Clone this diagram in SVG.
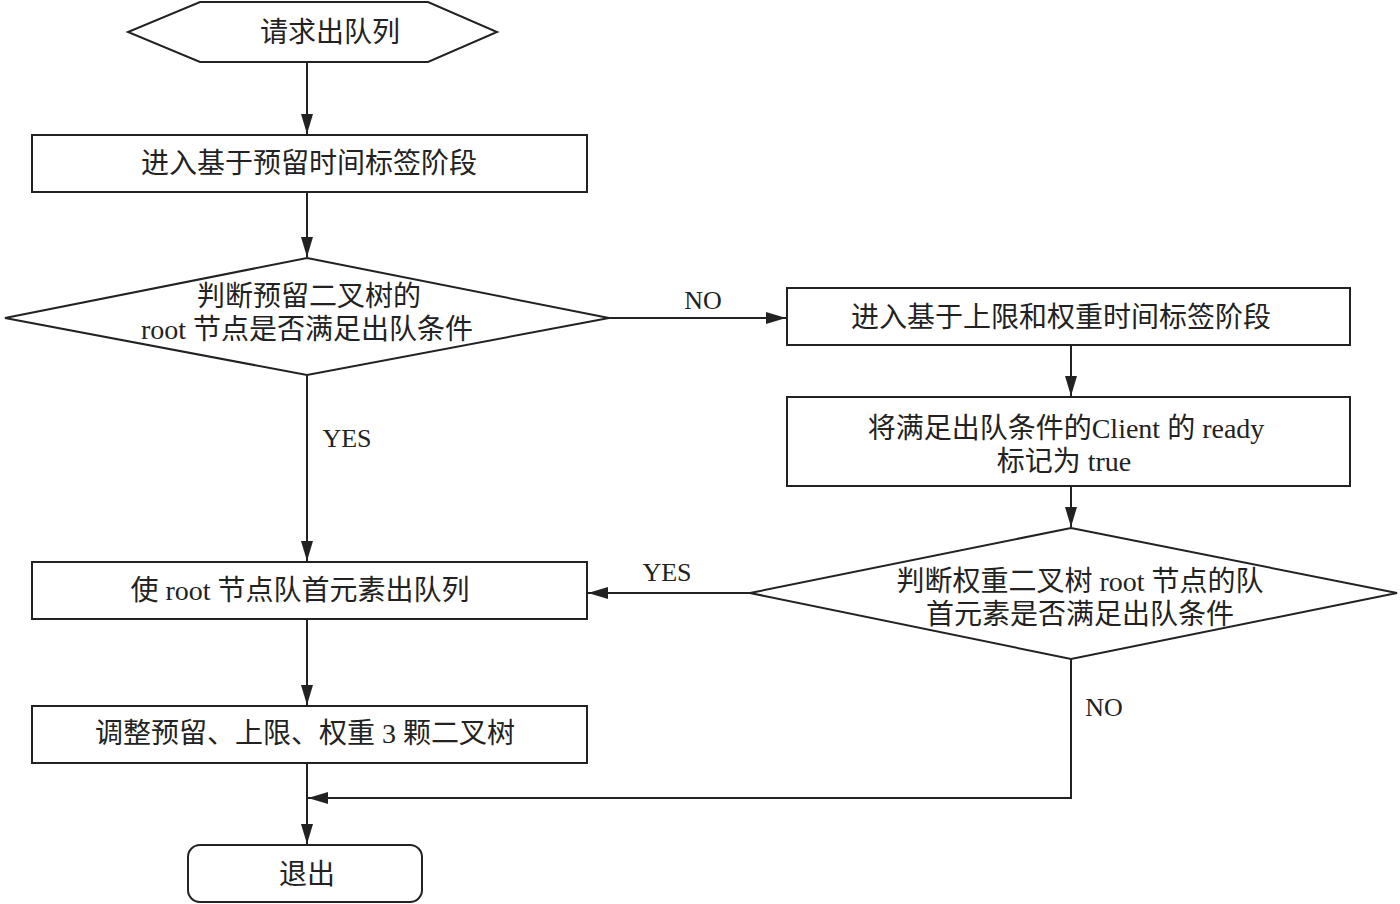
<svg xmlns="http://www.w3.org/2000/svg" width="1400" height="904" viewBox="0 0 1400 904">
<style>
.s{fill:#fff;stroke:#222;stroke-width:2}
.c{fill:none;stroke:#222;stroke-width:2}
text{font-family:"Liberation Serif","Noto Sans CJK SC",serif;font-size:28px;fill:#222;text-anchor:middle;dominant-baseline:central}
.l{font-size:26px}
</style>
<defs>
<marker id="a" markerUnits="userSpaceOnUse" markerWidth="22" markerHeight="14" refX="20" refY="6" orient="auto">
<path d="M0,0 L20,6 L0,12 Z" fill="#222"/>
</marker>
</defs>
<rect width="1400" height="904" fill="#fff"/>
<g id="connectors">
<line class="c" x1="307" y1="63" x2="307" y2="134" marker-end="url(#a)"/>
<line class="c" x1="307" y1="192" x2="307" y2="257" marker-end="url(#a)"/>
<line class="c" x1="609" y1="318" x2="786" y2="318" marker-end="url(#a)"/>
<text class="l" x="703" y="300">NO</text>
<line class="c" x1="1071" y1="345" x2="1071" y2="396" marker-end="url(#a)"/>
<line class="c" x1="1071" y1="486" x2="1071" y2="527" marker-end="url(#a)"/>
<line class="c" x1="750" y1="593" x2="588" y2="593" marker-end="url(#a)"/>
<text class="l" x="667" y="572">YES</text>
<line class="c" x1="307" y1="375" x2="307" y2="561" marker-end="url(#a)"/>
<text class="l" x="347" y="438">YES</text>
<line class="c" x1="307" y1="619" x2="307" y2="705" marker-end="url(#a)"/>
<line class="c" x1="307" y1="763" x2="307" y2="844" marker-end="url(#a)"/>
<polyline class="c" points="1071,659 1071,798 308,798" marker-end="url(#a)"/>
<text class="l" x="1104" y="707">NO</text>
</g>
<g id="start">
<polygon class="s" points="200,2 428,2 497,32 428,62 200,62 128,32"/>
<text x="330" y="32">请求出队列</text>
</g>
<g id="box1">
<rect class="s" x="32" y="135" width="555" height="57"/>
<text x="309" y="163">进入基于预留时间标签阶段</text>
</g>
<g id="dec1">
<polygon class="s" points="307,258 609,318 307,375 5,318"/>
<text x="309" y="296">判断预留二叉树的</text>
<text x="307" y="329">root 节点是否满足出队条件</text>
</g>
<g id="box2">
<rect class="s" x="787" y="288" width="563" height="57"/>
<text x="1061" y="317">进入基于上限和权重时间标签阶段</text>
</g>
<g id="box3">
<rect class="s" x="787" y="397" width="563" height="89"/>
<text x="1066" y="428">将满足出队条件的Client 的 ready</text>
<text x="1064" y="461">标记为 true</text>
</g>
<g id="dec2">
<polygon class="s" points="1071,528 1397,593 1071,659 750,593"/>
<text x="1080" y="581">判断权重二叉树 root 节点的队</text>
<text x="1080" y="614">首元素是否满足出队条件</text>
</g>
<g id="box4">
<rect class="s" x="32" y="562" width="555" height="57"/>
<text x="300" y="590">使 root 节点队首元素出队列</text>
</g>
<g id="box5">
<rect class="s" x="32" y="706" width="555" height="57"/>
<text x="305" y="733">调整预留、上限、权重 3 颗二叉树</text>
</g>
<g id="exit">
<rect class="s" x="188" y="845" width="234" height="57" rx="12"/>
<text x="307" y="874">退出</text>
</g>
</svg>
